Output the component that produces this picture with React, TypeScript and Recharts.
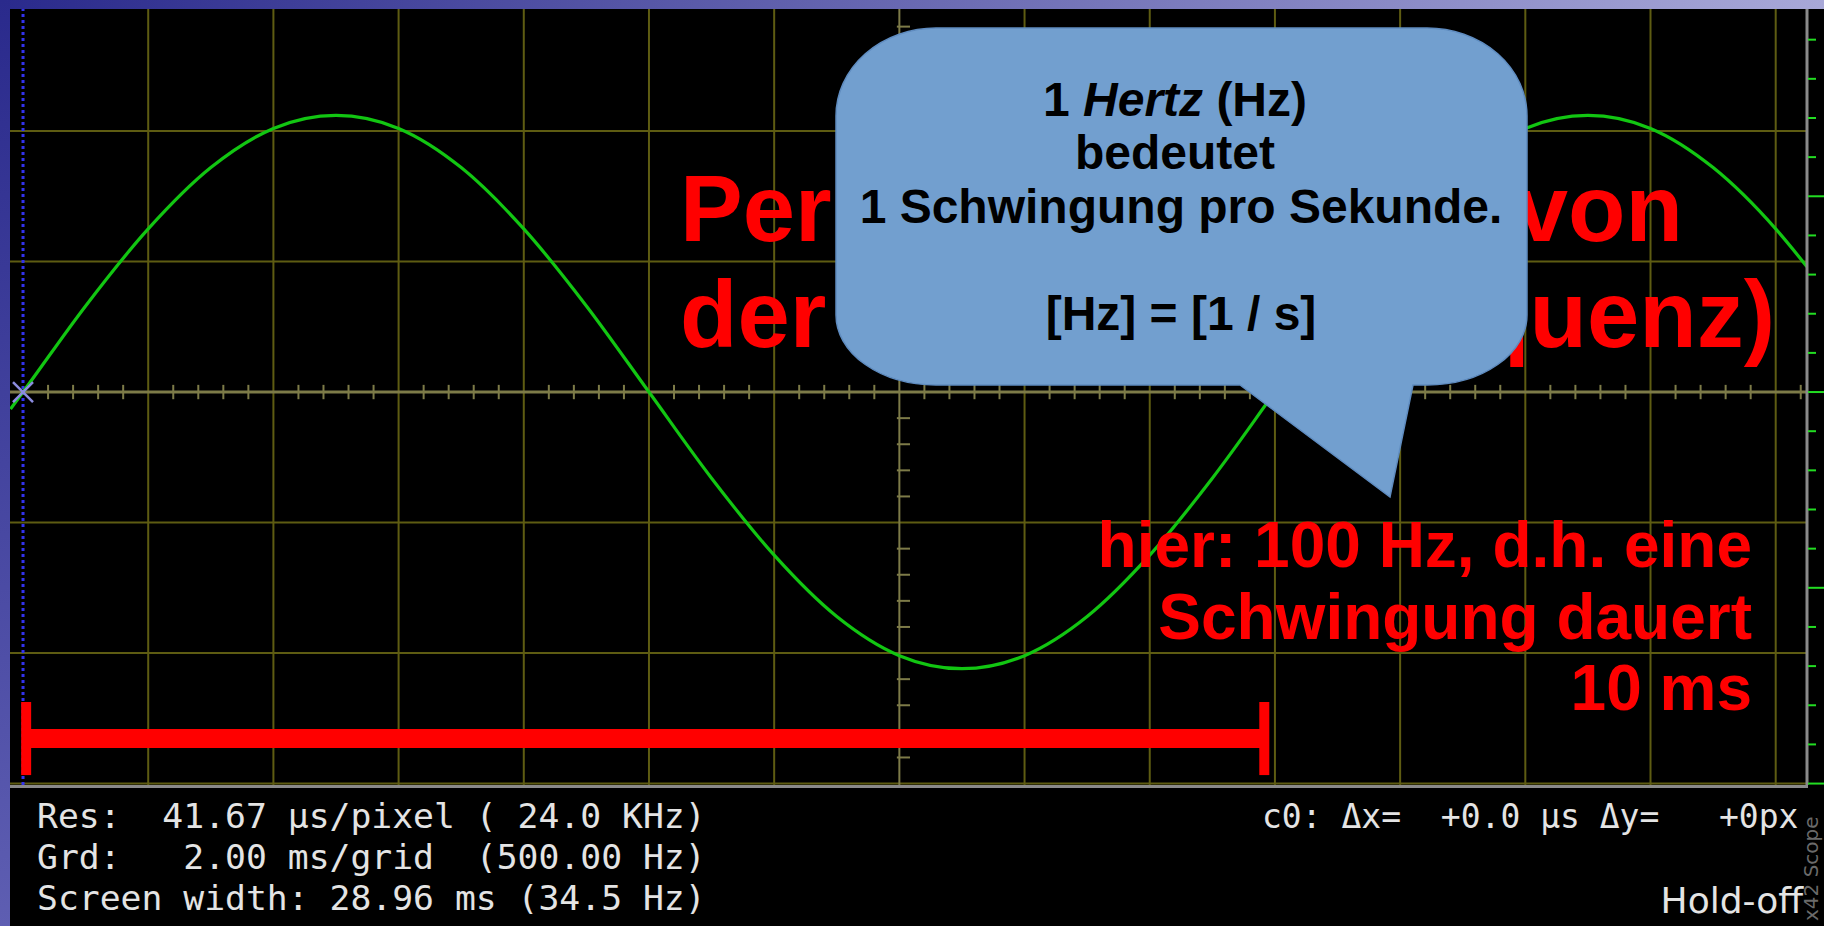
import React from "react";
import {
  LineChart,
  Line,
  XAxis,
  YAxis,
  ReferenceLine,
  ReferenceDot,
} from "recharts";

// trace: time in ms, amplitude in grid divisions
const timeMs = [
  -0.2, 0, 1, 2, 3, 4, 5, 6, 7, 8, 9, 10, 11, 12, 13, 14, 15, 16, 17, 18, 19,
  20, 21, 22, 23, 24, 25, 26, 27, 28, 28.5,
];
const traceDiv = [
  -0.13, 0, 0.66, 1.25, 1.72, 2.02, 2.12, 2.02, 1.72, 1.25, 0.66, 0, -0.66,
  -1.25, -1.72, -2.02, -2.12, -2.02, -1.72, -1.25, -0.66, 0, 0.66, 1.25, 1.72,
  2.02, 2.12, 2.02, 1.72, 1.25, 0.96,
];

// scope graticule (2 ms / grid horizontally, 1 div vertically)
const gridTimes = [2, 4, 6, 8, 10, 12, 16, 18, 20, 22, 24, 26, 28];
const gridLevels = [-3, -2, -1, 1, 2];
const centerTime = 14;
const centerLevel = 0;
const xDomain: [number, number] = [-0.208, 28.5];
const yDomain: [number, number] = [-3.011, 2.935];

// measured period marker (ms) and its level (div)
const periodStart = 0.05;
const periodEnd = 19.83;
const periodLevel = -2.655;
const capTop = -2.375;
const capBottom = -2.935;

const infoLeft = [
  "Res:  41.67 µs/pixel ( 24.0 KHz)",
  "Grd:   2.00 ms/grid  (500.00 Hz)",
  "Screen width: 28.96 ms (34.5 Hz)",
];
const infoRight = "c0: Δx=  +0.0 µs Δy=   +0px";
const bubbleLines = ["bedeutet", "1 Schwingung pro Sekunde.", "", "[Hz] = [1 / s]"];
const noteLines = ["hier: 100 Hz, d.h. eine", "Schwingung dauert", "10 ms"];

const data = timeMs.map((t, i) => ({ t, v: traceDiv[i] }));

function steps(from: number, to: number, step: number) {
  const out: number[] = [];
  for (let k = 0; from + k * step <= to + 1e-9; k++) out.push(+(from + k * step).toFixed(3));
  return out;
}
const minorX = steps(0.4, 28.4, 0.4).filter((t) => Math.abs(t / 2 - Math.round(t / 2)) > 0.01);
const minorY = steps(-3, 2.8, 0.2).filter((y) => Math.abs(y - Math.round(y)) > 0.01);
const rightTicks = steps(-3, 2.7, 0.3);

const GRID = "#5e5c12";
const AXIS = "#7d7b48";

function ScaleTick(props: any) {
  const { x, y, payload } = props;
  const k = (payload.value + 3) / 1.5;
  const long = Math.abs(k - Math.round(k)) < 0.01;
  return <line x1={x + 1} y1={y} x2={x + (long ? 17 : 9)} y2={y} stroke="#22dd22" strokeWidth={2} />;
}

function Cursor(props: any) {
  const { cx, cy } = props;
  const s = 10;
  return (
    <g stroke="#8c8ce0" strokeWidth={2.5}>
      <line x1={cx - s} y1={cy - s} x2={cx + s} y2={cy + s} />
      <line x1={cx - s} y1={cy + s} x2={cx + s} y2={cy - s} />
    </g>
  );
}

export default function App() {
  const mono = { fontFamily: "DejaVu Sans Mono", whiteSpace: "pre" as const };
  // the bubble's longer lines sit a little right of the short ones
  const bubbleShift = [0, 6, 0, 6];
  return (
    <div style={{ position: "absolute", left: 0, top: 0, width: 1824, height: 926, background: "#000", overflow: "hidden" }}>
      <div style={{ position: "absolute", left: 0, top: 0, width: 1824, height: 9, background: "linear-gradient(to right, #2a2a8c, #a8a8d8)" }} />
      <div style={{ position: "absolute", left: 0, top: 0, width: 10, height: 926, background: "linear-gradient(to bottom, #2a2a8c, #5e5eb2)" }} />
      <div style={{ position: "absolute", left: 0, top: 0 }}>
        <LineChart width={1824} height={926} data={data} margin={{ top: 9, right: 0, bottom: 141, left: 10 }}>
          <XAxis dataKey="t" type="number" domain={xDomain} hide allowDataOverflow />
          <YAxis type="number" domain={yDomain} hide allowDataOverflow />
          <YAxis
            yAxisId="r"
            orientation="right"
            type="number"
            width={17}
            domain={yDomain}
            ticks={rightTicks}
            interval={0}
            tickSize={0}
            tickMargin={0}
            allowDataOverflow
            axisLine={{ stroke: "#8a8a8a", strokeWidth: 3 }}
            tick={<ScaleTick />}
          />
          {gridTimes.map((t) => (
            <ReferenceLine key={"gx" + t} x={t} stroke={GRID} strokeWidth={2} />
          ))}
          {gridLevels.map((y) => (
            <ReferenceLine key={"gy" + y} y={y} stroke={GRID} strokeWidth={2} />
          ))}
          <ReferenceLine x={centerTime} stroke={AXIS} strokeWidth={2} />
          <ReferenceLine y={centerLevel} stroke={AXIS} strokeWidth={3} />
          {minorX.map((t) => (
            <ReferenceLine key={"mx" + t} segment={[{ x: t, y: -0.055 }, { x: t, y: 0.055 }]} stroke={AXIS} strokeWidth={2} />
          ))}
          {minorY.map((y) => (
            <ReferenceLine key={"my" + y} segment={[{ x: centerTime - 0.04, y }, { x: centerTime + 0.17, y }]} stroke={AXIS} strokeWidth={2} />
          ))}
          <ReferenceLine x={0} stroke="#3232ee" strokeWidth={3} strokeDasharray="3 3" />
          <Line dataKey="v" type="monotone" stroke="#12c612" strokeWidth={3.2} dot={false} isAnimationActive={false} />
          <ReferenceDot x={0} y={0} r={10} shape={<Cursor />} />
          <ReferenceLine segment={[{ x: periodStart, y: periodLevel }, { x: periodEnd, y: periodLevel }]} stroke="#ff0000" strokeWidth={19} />
          <ReferenceLine segment={[{ x: periodStart, y: capTop }, { x: periodStart, y: capBottom }]} stroke="#ff0000" strokeWidth={10} />
          <ReferenceLine segment={[{ x: periodEnd, y: capTop }, { x: periodEnd, y: capBottom }]} stroke="#ff0000" strokeWidth={10} />
        </LineChart>
      </div>
      <svg width={1824} height={926} style={{ position: "absolute", left: 0, top: 0, pointerEvents: "none" }}>
        <line x1={10} y1={786.5} x2={1808} y2={786.5} stroke="#8a8a8a" strokeWidth={3} />
        <g fill="#ff0000" fontFamily="Liberation Sans" fontWeight="bold">
          <text x={680} y={241} fontSize={94}>Periode (Kehrwert von</text>
          <text x={680} y={347} fontSize={94}>der</text>
          <text x={1775} y={347} fontSize={94} textAnchor="end">Frequenz)</text>
          {noteLines.map((s, i) => (
            <text key={s} x={1752} y={567 + i * 71.5} fontSize={64} textAnchor="end">{s}</text>
          ))}
        </g>
        <path
          d="M 936 28 H 1427 A 100 88 0 0 1 1527 116 V 315 A 100 70 0 0 1 1427 385 H 1413 L 1390 497 L 1240 385 H 936 A 100 70 0 0 1 836 315 V 116 A 100 88 0 0 1 936 28 Z"
          fill="#729fcf"
          stroke="#5f8cc0"
          strokeWidth={1.5}
        />
        <g fill="#000" fontFamily="Liberation Sans" fontWeight="bold" fontSize={48} textAnchor="middle">
          <text x={1175} y={116}>
            1 <tspan fontStyle="italic">Hertz</tspan> (Hz)
          </text>
          {bubbleLines.map((s, i) => (
            <text key={i} x={1175 + bubbleShift[i]} y={169 + i * 53.5}>{s}</text>
          ))}
        </g>
        <g fill="#e4e4e4" fontSize={33} style={mono}>
          {infoLeft.map((s, i) => (
            <text key={i} x={0} y={0} style={mono} transform={`translate(37 ${828 + i * 41}) scale(1.052 1)`}>{s}</text>
          ))}
          <text x={1262} y={828} style={mono}>{infoRight}</text>
        </g>
        <text x={1803} y={913} fill="#e4e4e4" fontSize={36} fontFamily="DejaVu Sans" textAnchor="end">Hold-off</text>
        <text x={0} y={0} fill="#6a6a6a" fontSize={20} fontFamily="DejaVu Sans" transform="translate(1818 921) rotate(-90)">x42 Scope</text>
      </svg>
    </div>
  );
}
